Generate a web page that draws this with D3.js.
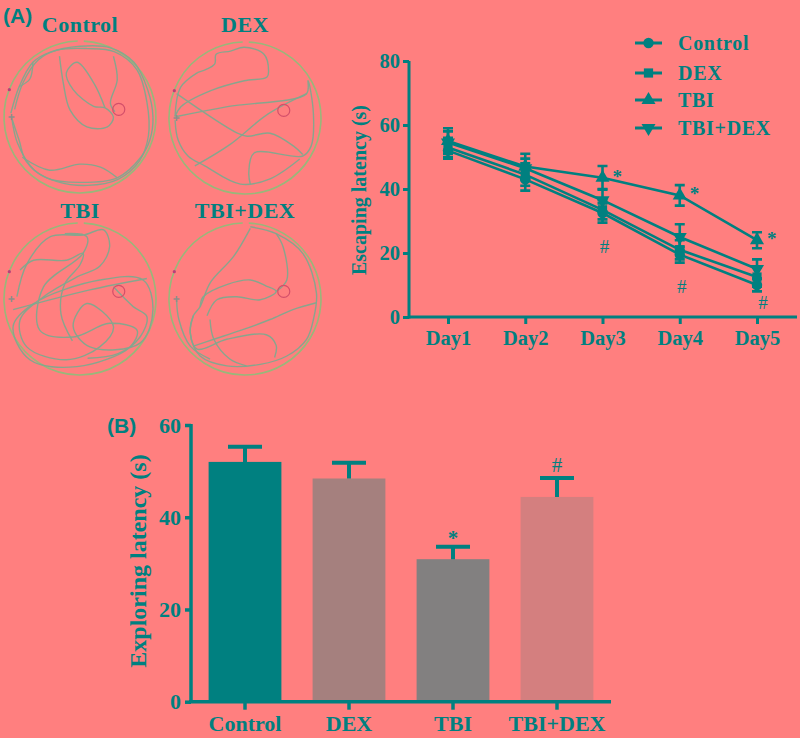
<!DOCTYPE html>
<html><head><meta charset="utf-8">
<script src="https://cdn.jsdelivr.net/npm/d3@7"></script>
<style>
html,body{margin:0;padding:0;background:#FF7F7F;}
svg{display:block;}
text{font-family:"Liberation Serif","Times New Roman",serif;font-weight:bold;fill:#008080;}
</style></head>
<body>
<svg id="chart" width="800" height="738"></svg>
<script>
// ---------- DATA ----------
const days = ["Day1","Day2","Day3","Day4","Day5"];
const groups = ["Control","DEX","TBI","TBI+DEX"];
const controlLatency = [52, 43, 32.5, 19.5, 10];
const dexLatency     = [53, 44.5, 33.5, 21, 12.5];
const tbiLatency     = [55, 47, 43.5, 38, 24];
const tbiDexLatency  = [54.5, 46.5, 36.5, 25, 15];
const controlErr = [2.5, 3.5, 3, 2.5, 2];
const dexErr     = [3, 3.5, 3, 3, 3];
const tbiErr     = [4, 4, 3.7, 3.2, 2.5];
const tbiDexErr  = [3.5, 3, 3.5, 4, 3];
const starDays = ["Day3","Day4","Day5"];   // * vs control (TBI)
const hashDays = ["Day3","Day4","Day5"];   // # vs TBI
const latencyTicks = [0,20,40,60,80];

const exploreValues = [52, 48.4, 30.9, 44.4];
const exploreErr    = [3.3, 3.4, 2.7, 4.1];
const exploreTicks  = [0,20,40,60];
const exploreMarks  = ["", "", "*", "#"];

// Morris water maze swim paths (normalized to pool radius, centre 0,0)
const mazeTitles = ["Control","DEX","TBI","TBI+DEX"];
const mazePaths = [
  [ // Control
    [[-0.91,-0.05],[-0.8,-0.4],[-0.62,-0.72],[-0.4,-0.85],[0,-0.93],[0.4,-0.91],[0.71,-0.72],[0.89,-0.36],[0.96,0],[0.92,0.3],[0.8,0.53],[0.49,0.8],[0,0.86],[-0.44,0.8],[-0.71,0.58],[-0.8,0.31],[-0.89,0.04]],
    [[-0.86,-0.1],[-0.75,-0.45],[-0.55,-0.75],[-0.3,-0.88],[0.1,-0.9],[0.45,-0.86],[0.75,-0.62],[0.88,-0.2],[0.9,0.25],[0.78,0.58],[0.5,0.82],[0.1,0.9],[-0.3,0.85],[-0.6,0.7],[-0.82,0.35],[-0.9,0.0]],
    [[-0.76,0.53],[-0.4,0.7],[0,0.62],[0.27,0.66],[0.49,0.8]],
    [[-0.27,-0.8],[-0.22,-0.45],[-0.13,-0.09],[0.09,0.13],[0.36,0.13],[0.44,0.0],[0.33,-0.12],[0.18,-0.14],[-0.09,-0.36],[-0.18,-0.58],[-0.04,-0.72],[0.18,-0.45],[0.33,-0.12]],
    [[0.44,-0.8],[0.49,-0.49],[0.4,-0.18],[0.46,-0.07]],
    [[-0.62,-0.72],[-0.66,-0.5],[-0.8,-0.4]]
  ],
  [ // DEX
    [[-0.62,-0.6],[-0.4,-0.71],[-0.38,-0.84],[-0.19,-0.88],[-0.01,-0.93],[0.25,-0.84],[0.31,-0.62],[0.29,-0.54],[-0.01,-0.49],[-0.45,-0.36],[-0.84,-0.15],[-0.92,-0.02]],
    [[-0.9,-0.32],[-0.1,0.2],[0.03,0.24],[0.33,0.2],[0.64,0.37],[0.76,0.48]],
    [[-0.9,-0.02],[-0.23,-0.15],[0.81,-0.32],[0.83,-0.49],[0.9,-0.06],[0.87,0.37],[0.76,0.5],[0.12,0.46],[0.05,0.72],[0.07,0.87]],
    [[0.81,-0.32],[0.3,-0.05],[-0.2,0.35],[-0.66,0.63]],
    [[-0.92,0.03],[-0.88,0.29],[-0.75,0.5],[-0.53,0.63],[-0.06,0.87],[0.33,0.8],[0.72,0.54]],
    [[-0.92,-0.02],[-0.85,-0.4],[-0.62,-0.6]]
  ],
  [ // TBI
    [[-0.83,-0.03],[-0.7,-0.46],[-0.39,-0.82],[0.04,-0.84],[0.31,-0.91],[0.39,-0.69],[0.26,-0.43],[-0.04,-0.29],[-0.48,-0.03],[-0.79,0.28],[-0.7,0.63],[-0.18,0.8],[0.26,0.63],[0.44,0.36],[0.09,0.06],[-0.09,0.36],[0.13,0.63],[0.79,0.58],[0.96,0.14],[0.83,-0.25],[0.26,-0.25],[-0.61,0.06],[-0.88,0.36],[-0.66,0.8],[-0.04,0.89],[0.66,0.63],[0.75,0.41],[0.39,0.32],[-0.09,0.5],[-0.53,0.41],[-0.48,-0.16],[0.04,-0.6],[0.09,-0.82],[-0.2,-0.86]],
    [[-0.79,-0.38],[-0.61,-0.51],[-0.18,-0.51],[0.04,-0.6],[0.0,-0.45],[-0.2,-0.2],[-0.25,0.2],[-0.1,0.55]],
    [[-0.88,0.14],[0.13,-0.12],[0.88,-0.27]],
    [[0.44,-0.16],[0.7,0.1],[0.88,0.23],[0.79,0.5],[0.5,0.72],[0.1,0.78]]
  ],
  [ // TBI+DEX
    [[0.07,-0.95],[0.41,-0.86],[0.76,-0.6],[0.94,-0.08],[0.9,0.27],[0.81,0.53],[0.55,0.75],[0.2,0.86],[-0.24,0.88],[-0.59,0.75],[-0.72,0.45],[-0.68,0.22]],
    [[0.07,-0.93],[-0.15,-0.56],[-0.46,-0.21],[-0.59,0.1],[-0.68,0.22],[-0.72,0.45],[-0.63,0.66],[-0.24,0.53],[0.28,0.47],[0.41,0.61],[0.39,0.77]],
    [[-0.5,0.22],[-0.37,0.01],[-0.11,-0.03],[0.2,0.01],[0.41,-0.1],[0.28,-0.17],[0.07,-0.25],[-0.24,-0.19],[-0.55,-0.03],[-0.59,0.1]],
    [[0.41,-0.1],[0.55,-0.25],[0.5,-0.69],[0.41,-0.86]],
    [[0.94,0.05],[0.63,0.14],[0.33,0.27],[-0.02,0.4],[-0.41,0.53],[-0.68,0.62]],
    [[-0.46,0.27],[-0.41,0.53],[-0.2,0.79],[0.02,0.88]],
    [[-0.9,0.01],[-0.87,0.27],[-0.72,0.62],[-0.46,0.79]]
  ]
];

// ---------- DRAW ----------
const svg = d3.select("#chart");
const teal = "#008080";

// Panel labels
svg.append("text").attr("x",3).attr("y",23).style("font-family","'Liberation Sans',Arial,sans-serif")
  .style("font-size","21px").text("(A)");
svg.append("text").attr("x",107).attr("y",433).style("font-family","'Liberation Sans',Arial,sans-serif")
  .style("font-size","21px").text("(B)");

// ---- Water maze panels ----
const mazeCenters = [[80,117],[245,118],[80,299],[245,299]];
const mazeR = 76;
const mazeLine = d3.line().curve(d3.curveCatmullRom.alpha(0.5));
mazeTitles.forEach((t,i)=>{
  const [cx,cy] = mazeCenters[i];
  const g = svg.append("g").attr("transform",`translate(${cx},${cy})`);
  const sx = d3.scaleLinear().domain([-1,1]).range([-mazeR,mazeR]);
  const arc = d3.arc().innerRadius(mazeR).outerRadius(mazeR).startAngle(0.05).endAngle(2*Math.PI-0.03);
  g.append("path").attr("d",arc()).attr("fill","none").attr("stroke","#98b87a").attr("stroke-width",1.6);
  mazePaths[i].forEach(p=>{
    g.append("path").attr("d",mazeLine(p.map(d=>[sx(d[0]),sx(d[1])])))
      .attr("fill","none").attr("stroke","#82a88e").attr("stroke-width",1.4).attr("opacity",0.95);
  });
  g.append("circle").attr("cx",sx(0.51)).attr("cy",sx(-0.1)).attr("r",6)
    .attr("fill","none").attr("stroke","#d44f6a").attr("stroke-width",1.2);
  g.append("circle").attr("cx",sx(-0.93)).attr("cy",sx(-0.36)).attr("r",1.6).attr("fill","#b8407a");
  const sxp = sx(-0.9), syp = sx(0.0);
  g.append("path").attr("d",`M${sxp-3},${syp}H${sxp+3}M${sxp},${syp-3}V${syp+3}`)
    .attr("stroke","#8a8f8a").attr("stroke-width",1.5);
  const ty = i<2 ? 32 - cy : 218 - cy;
  g.append("text").attr("x",0).attr("y",ty).attr("text-anchor","middle")
    .style("font-size","22px").style("letter-spacing","0.5px").text(t);
});

// ---- Line chart (escaping latency) ----
const lx = d3.scalePoint().domain(days).range([448,757]);
const ly = d3.scaleLinear().domain([0,80]).range([317,61]);
const lineSeries = [
  {name:"Control", v:controlLatency, e:controlErr, sym:d3.symbolCircle},
  {name:"DEX", v:dexLatency, e:dexErr, sym:d3.symbolSquare},
  {name:"TBI", v:tbiLatency, e:tbiErr, sym:d3.symbolTriangle},
  {name:"TBI+DEX", v:tbiDexLatency, e:tbiDexErr, sym:"down"}
];
const lc = svg.append("g");
const yAxL = lc.append("g").attr("transform","translate(409,0)")
  .call(d3.axisLeft(ly).tickValues(latencyTicks).tickSize(6).tickPadding(3).tickSizeOuter(0));
const xAxL = lc.append("g").attr("transform","translate(0,317)")
  .call(d3.axisBottom(lx).tickSize(7).tickPadding(6).tickSizeOuter(0));
xAxL.select(".domain").attr("d","M409,0H797");
[yAxL,xAxL].forEach(a=>{
  a.selectAll("path,line").attr("stroke",teal).attr("stroke-width",3);
  a.selectAll("text").attr("fill",teal).style("font-size","20.5px").style("font-family","'Liberation Serif',serif").style("font-weight","bold");
});
yAxL.select(".domain").attr("d","M0,61V318.5");
lc.append("text").attr("transform","translate(366,190) rotate(-90)").attr("text-anchor","middle")
  .style("font-size","20px").text("Escaping latency (s)");

const lineGen = d3.line().x((d,i)=>lx(days[i])).y(d=>ly(d));
function symPath(sym, size){
  if(sym==="down") return d3.symbol().type(d3.symbolTriangle).size(size)();
  return d3.symbol().type(sym).size(size)();
}
lineSeries.forEach(s=>{
  lc.append("path").attr("d",lineGen(s.v)).attr("fill","none").attr("stroke",teal).attr("stroke-width",2.6);
  s.v.forEach((v,i)=>{
    const x = lx(days[i]);
    const y0 = ly(v - s.e[i]), y1 = ly(v + s.e[i]);
    lc.append("path").attr("d",`M${x},${y0}V${y1}M${x-5},${y0}H${x+5}M${x-5},${y1}H${x+5}`)
      .attr("stroke",teal).attr("stroke-width",2.6).attr("fill","none");
    lc.append("path").attr("d",symPath(s.sym,85))
      .attr("transform",`translate(${x},${ly(v)})${s.sym==="down"?" rotate(180)":""}`).attr("fill",teal);
  });
});
const tbiIdx = d => days.indexOf(d);
starDays.forEach(d=>{
  const i = tbiIdx(d);
  lc.append("text").attr("x",lx(d)+10).attr("y",ly(tbiLatency[i])+5).style("font-size","19px").text("*");
});
hashDays.forEach(d=>{
  const i = tbiIdx(d);
  const lowest = Math.min(controlLatency[i]-controlErr[i], dexLatency[i]-dexErr[i]);
  lc.append("text").attr("x",lx(d)+ (d==="Day5"?6:2)).attr("y",ly(lowest)+ (d==="Day5"?18:30))
    .attr("text-anchor","middle").style("font-size","19px").style("font-weight","normal").text("#");
});

// legend
const leg = svg.append("g");
lineSeries.forEach((s,i)=>{
  const y = [43,73,100,128][i];
  leg.append("path").attr("d",`M635,${y}H662`).attr("stroke",teal).attr("stroke-width",3);
  leg.append("path").attr("d",symPath(s.sym,85))
    .attr("transform",`translate(648.5,${y})${s.sym==="down"?" rotate(180)":""}`).attr("fill",teal);
  leg.append("text").attr("x",678).attr("y",y+7).style("font-size","20px").style("letter-spacing","0.7px").text(s.name);
});

// ---- Bar chart (exploring latency) ----
const bx = d3.scaleBand().domain(groups).range([193,609]).paddingInner(0.3).paddingOuter(0.15);
const by = d3.scaleLinear().domain([0,60]).range([701.7,425]);
const barColors = ["#008080","#A5807E","#828080","#D47F7F"];
const bc = svg.append("g");
bc.selectAll("rect.bar").data(groups).enter().append("rect").attr("class","bar")
  .attr("x",d=>bx(d)).attr("width",bx.bandwidth())
  .attr("y",(d,i)=>by(exploreValues[i])).attr("height",(d,i)=>by(0)-by(exploreValues[i]))
  .attr("fill",(d,i)=>barColors[i]);
groups.forEach((g,i)=>{
  const cx = bx(g)+bx.bandwidth()/2;
  const yt = by(exploreValues[i]), ye = by(exploreValues[i]+exploreErr[i]);
  bc.append("path").attr("d",`M${cx},${yt}V${ye}M${cx-17},${ye}H${cx+17}`)
    .attr("stroke",teal).attr("stroke-width",4).attr("fill","none");
  if(exploreMarks[i]){
    bc.append("text").attr("x",cx).attr("y",ye-(exploreMarks[i]==="*"?2:6)).attr("text-anchor","middle")
      .style("font-size","21px").style("font-weight", exploreMarks[i]==="#"?"normal":"bold").text(exploreMarks[i]);
  }
});
const yAxB = bc.append("g").attr("transform","translate(191,0)")
  .call(d3.axisLeft(by).tickValues(exploreTicks).tickSize(6).tickPadding(4).tickSizeOuter(0));
const xAxB = bc.append("g").attr("transform","translate(0,701.7)")
  .call(d3.axisBottom(bx).tickSize(8).tickPadding(6).tickSizeOuter(0));
xAxB.select(".domain").attr("d","M189,0H611");
[yAxB,xAxB].forEach(a=>{
  a.selectAll("path,line").attr("stroke",teal).attr("stroke-width",3.5);
  a.selectAll("text").attr("fill",teal).style("font-size","22px").style("font-family","'Liberation Serif',serif").style("font-weight","bold");
});
yAxB.select(".domain").attr("d","M0,424V703");
bc.append("text").attr("transform","translate(146,561) rotate(-90)").attr("text-anchor","middle")
  .style("font-size","24px").text("Exploring latency (s)");
</script>
</body></html>
